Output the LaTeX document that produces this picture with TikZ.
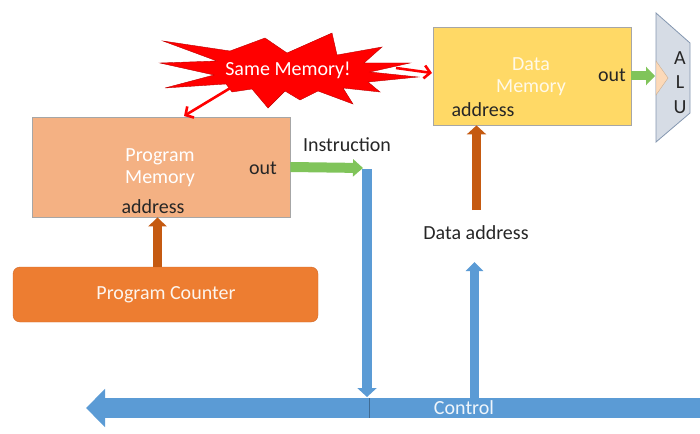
\documentclass[tikz,border=0pt]{standalone}
\usepackage{fontspec}
\setmainfont{Carlito}
\usetikzlibrary{arrows.meta,calc}
\definecolor{pmfill}{HTML}{F4B183}
\definecolor{dmfill}{HTML}{FFD966}
\definecolor{pcfill}{HTML}{ED7D31}
\definecolor{pcline}{HTML}{D0692A}
\definecolor{brownarr}{HTML}{C55A11}
\definecolor{greenarr}{HTML}{80C45A}
\definecolor{bluearr}{HTML}{5B9BD5}
\definecolor{alufill}{HTML}{D6DCE5}
\definecolor{aluline}{HTML}{8497B0}
\definecolor{notchfill}{HTML}{FCD9B8}
\definecolor{txt}{HTML}{262626}
\definecolor{boxline}{HTML}{A6A6A6}
\definecolor{burstred}{HTML}{FF0000}
\begin{document}
\begin{tikzpicture}[x=1pt,y=-1pt,
  every node/.style={font=\fontsize{20}{22}\selectfont, inner sep=0pt, text=txt},
  membox/.style={draw=boxline, line width=0.8pt},
  blk/.style n args={3}{line width=#1, -{Triangle[length=#2,width=#3]}},
  redarrow/.style={draw=burstred, line width=2.6pt, -{Straight Barb[length=6pt,width=13pt]}},
  wtext/.style={text=white, align=center}]
\useasboundingbox (0,0) rectangle (700,433);

% boxes
\node[membox, fill=pmfill, minimum width=258pt, minimum height=100pt] (pm) at (161,167) {};
\node[membox, fill=dmfill, minimum width=198pt, minimum height=98pt] (dm) at (532,76) {};
\node[draw=pcline, fill=pcfill, rounded corners=7pt, minimum width=305pt, minimum height=55pt] (pc) at (165.5,294.5) {};

\node[wtext] (pmname) at (160,168) {Program\\Memory};
\node (pmoutl) at (263,168) {out};
\node (pmaddr) at (153,207) {address};
\node[wtext, text=white!85!dmfill] (dmname) at (531,77) {Data\\Memory};
\node (dmoutl) at (612,75) {out};
\node (dmaddr) at (483,110) {address};
\node[text=white!92!pcfill] (pcname) at (166,295) {Program Counter};

% ALU
\draw[fill=alufill, draw=aluline, line width=0.8pt] (656,13) -- (690,43) -- (690,113) -- (656,142) -- cycle;
\draw[fill=notchfill, draw=notchfill!80!black, line width=0.4pt] (656,61) -- (668,78) -- (656,95) -- cycle;
\node (aluA) at (680,58) {A};
\node (aluL) at (680,82) {L};
\node (aluU) at (680,107) {U};
\coordinate (aluin) at (655,76);

% starburst
\draw[fill=burstred, draw=burstred!75!black, line width=0.4pt, line join=miter]
  (160,63) -- (217,61) -- (163,41) -- (230,51) -- (265,38) -- (287,53) -- (332,33)
  -- (337,55) -- (382,47) -- (364,63) -- (410,63) -- (370,72) -- (418,77) -- (368,82)
  -- (380,92) -- (343,88) -- (353,104) -- (318,91) -- (300,100) -- (285,91) -- (268,108)
  -- (252,89) -- (232,92) -- (226,84) -- (165,88) -- (214,75) -- cycle;
\node[text=white] (burst) at (288,70) {Same Memory!};
\coordinate (burstL) at (232,87);
\coordinate (burstR) at (396,68);
\coordinate (pmtop) at (184,116);
\coordinate (dmleft) at (432,73);
\draw[redarrow] (burstL) -- (pmtop);
\draw[redarrow] (burstR) -- (dmleft);

% labels
\node (instr) at (347,145) {Instruction};
\node (dalabel) at (476,233) {Data address};

% brown address arrows
\coordinate (pcout) at (157.5,267);
\draw[brownarr, blk={9pt}{9pt}{18pt}] (pcout) -- (pcout |- pm.south);
\coordinate (datop) at (476.5,210);
\draw[brownarr, blk={9pt}{9pt}{19pt}] (datop) -- (datop |- dm.south);

% green out arrows
\coordinate (instrtip) at (363,168);
\draw[greenarr, blk={10pt}{10pt}{17pt}] (pm.east) -- (instrtip);
\draw[greenarr, blk={9pt}{9pt}{18pt}] (dm.east) -- (aluin);

% bus
\coordinate (busR) at (702,408);
\coordinate (busL) at (86,408);
\draw[bluearr, blk={20pt}{19pt}{37pt}] (busR) -- (busL);
\draw[bluearr!70!black, line width=0.5pt] (369,398) -- (369,418);
\node[text=white!90!bluearr] (ctl) at (464,408) {Control};

% blue vertical arrows
\coordinate (drop) at (367,169);
\coordinate (droptip) at (367,397);
\draw[bluearr, blk={10pt}{9pt}{19pt}] (drop) -- (droptip);
\coordinate (rise) at (474.5,399);
\coordinate (risetip) at (474.5,262);
\draw[bluearr, blk={9pt}{9pt}{17pt}] (rise) -- (risetip);
\end{tikzpicture}
\end{document}
